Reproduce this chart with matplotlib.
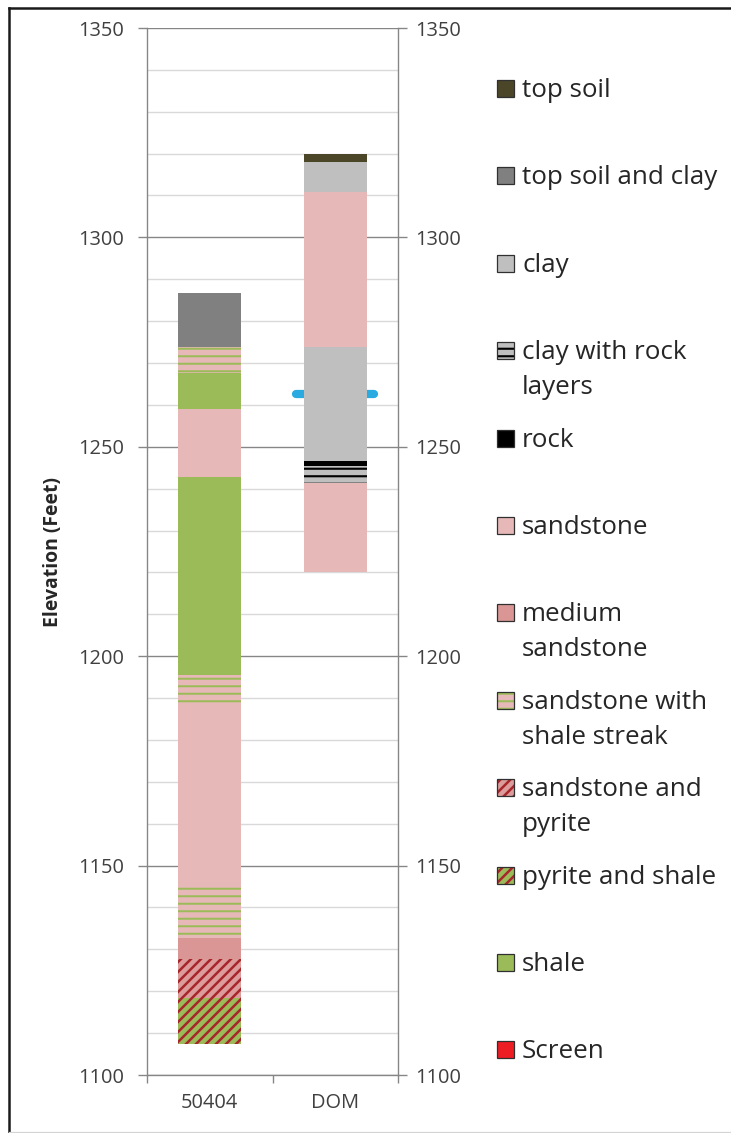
import numpy as np
import matplotlib
matplotlib.use("Agg")
import matplotlib.pyplot as plt
from matplotlib.patches import Rectangle
from matplotlib.lines import Line2D
from matplotlib.ticker import MultipleLocator

# ── data ─────────────────────────────────────────────────────────────────────

wells = ["50404", "DOM"]

# legend entries, top to bottom
layer_keys = ["top_soil", "top_soil_clay", "clay", "clay_rock", "rock", "sandstone",
              "med_sandstone", "sand_streak", "sand_pyrite", "pyrite_shale", "shale", "screen"]
layer_labels = ["top soil", "top soil and clay", "clay", "clay with rock\nlayers", "rock",
                "sandstone", "medium\nsandstone", "sandstone with\nshale streak",
                "sandstone and\npyrite", "pyrite and shale", "shale", "Screen"]

# well 50404, bottom to top
log_50404_base = 1107.5
log_50404_layers = ["pyrite_shale", "sand_pyrite", "med_sandstone", "sand_streak", "sandstone",
                    "sand_streak", "shale", "sandstone", "shale", "sand_streak", "top_soil_clay"]
log_50404_thick = [11.0, 9.2, 5.0, 13.1, 42.5, 7.2, 47.3, 16.2, 8.6, 6.2, 12.9]

# well DOM, bottom to top
log_dom_base = 1220.0
log_dom_layers = ["sandstone", "clay_rock", "rock", "clay", "sandstone", "clay", "top_soil"]
log_dom_thick = [21.4, 4.1, 1.0, 27.3, 37.0, 7.2, 2.0]

water_level_dom = 1262.6

# ── styles ───────────────────────────────────────────────────────────────────

PINK = "#e6b9b8"
GREEN = "#9bbb59"
DARKRED = "#a8262b"
# face, hatch, hatch colour, hatch linewidth
styles = {
    "top_soil":      ("#4b4628", None, None, 1.0),
    "top_soil_clay": ("#808080", None, None, 1.0),
    "clay":          ("#bfbfbf", None, None, 1.0),
    "clay_rock":     ("#bfbfbf", "--", "#000000", 1.7),
    "rock":          ("#000000", None, None, 1.0),
    "sandstone":     (PINK, None, None, 1.0),
    "med_sandstone": ("#d99694", None, None, 1.0),
    "sand_streak":   (PINK, "--", GREEN, 1.6),
    "sand_pyrite":   ("#dc9c9b", "///", DARKRED, 2.0),
    "pyrite_shale":  (GREEN, "///", DARKRED, 2.0),
    "shale":         (GREEN, None, None, 1.0),
    "screen":        ("#ee1c23", None, None, 1.0),
}

AXIS_GRAY = "#868686"
TEXT_GRAY = "#404040"
plt.rcParams["font.family"] = ["Open Sans", "DejaVu Sans"]

DPI = 90
W, H = 731, 1133
fig = plt.figure(figsize=(W / DPI + 1e-3, H / DPI + 1e-3), dpi=DPI)
fig.patch.set_facecolor("white")

ax = fig.add_axes([147 / W, 1 - 1075 / H, (398 - 147) / W, (1075 - 28) / H])


def add_layers(x, base, layers, thick):
    bottoms = base + np.concatenate([[0], np.cumsum(thick)[:-1]])
    for key, t, b in zip(layers, thick, bottoms):
        face, hatch, hcol, hlw = styles[key]
        plt.rcParams["hatch.linewidth"] = hlw
        bars = ax.bar(x, t, bottom=b, width=0.5, color=face, hatch=hatch,
                      edgecolor=hcol if hcol else face, linewidth=0, zorder=3)
        for p in bars:
            if hasattr(p, "set_hatch_linewidth"):
                p.set_hatch_linewidth(hlw)


add_layers(0, log_50404_base, log_50404_layers, log_50404_thick)
add_layers(1, log_dom_base, log_dom_layers, log_dom_thick)

# water level marker behind the DOM column
ax.plot([1 - 0.31, 1 + 0.31], [water_level_dom, water_level_dom], color="#29abe2",
        lw=6.6, solid_capstyle="round", zorder=2.5)

ax.set_xlim(-0.5, 1.5)
ax.set_ylim(1100, 1350)
ax.set_axisbelow(True)
ax.yaxis.set_major_locator(MultipleLocator(50))
ax.yaxis.set_minor_locator(MultipleLocator(10))
ax.grid(which="minor", axis="y", color="#d9d9d9", lw=1.1)
ax.grid(which="major", axis="y", color=AXIS_GRAY, lw=1.1)

for s in ["left", "right", "bottom"]:
    ax.spines[s].set_color(AXIS_GRAY)
    ax.spines[s].set_linewidth(1.1)
ax.spines["top"].set_visible(False)

ax.tick_params(axis="y", which="major", direction="out", length=7, width=1.1,
               color=AXIS_GRAY, labelsize=16, pad=11, labelcolor=TEXT_GRAY)
ax.tick_params(axis="y", which="minor", length=0)

ax.set_xticks([-0.5, 0.5, 1.5])
ax.set_xticklabels([])
ax.set_xticks([0, 1], minor=True)
ax.set_xticklabels(wells, minor=True)
ax.tick_params(axis="x", which="major", direction="out", length=6, width=1.1, color=AXIS_GRAY)
ax.tick_params(axis="x", which="minor", length=0, pad=14, labelsize=16, labelcolor=TEXT_GRAY)

ax.set_ylabel("Elevation (Feet)", fontsize=15.5, fontweight="bold", color="#262626")
ax.yaxis.set_label_coords(-0.335, 0.5)

ax2 = ax.twinx()
ax2.set_ylim(ax.get_ylim())
ax2.yaxis.set_major_locator(MultipleLocator(50))
ax2.tick_params(axis="y", which="major", direction="out", length=7, width=1.1,
                color=AXIS_GRAY, labelsize=16, pad=7, labelcolor=TEXT_GRAY)
for s in ax2.spines.values():
    s.set_visible(False)

# ── legend ───────────────────────────────────────────────────────────────────
lax = fig.add_axes([0, 0, 1, 1])
lax.set_xlim(0, W)
lax.set_ylim(H, 0)
lax.axis("off")
lax.patch.set_alpha(0)

sq = 17
for i, (key, label) in enumerate(zip(layer_keys, layer_labels)):
    yc = 88.5 + 87.4 * i
    face, hatch, hcol, hlw = styles[key]
    plt.rcParams["hatch.linewidth"] = hlw
    r = Rectangle((497, yc - sq / 2), sq, sq, facecolor=face, hatch=hatch,
                  edgecolor=hcol if hcol else face, linewidth=0)
    if hasattr(r, "set_hatch_linewidth"):
        r.set_hatch_linewidth(hlw)
    lax.add_patch(r)
    lax.add_patch(Rectangle((497, yc - sq / 2), sq, sq, facecolor="none",
                            edgecolor="#303030", linewidth=1.0))
    for j, line in enumerate(label.split("\n")):
        lax.text(522, yc + sq / 2 + 35 * j, line, fontsize=20.8, color="#262626",
                 ha="left", va="baseline")

# screenshot frame
fig.add_artist(Line2D([9 / W, 9 / W], [0, 1 - 8 / H], transform=fig.transFigure,
                      color="#1a1a1a", lw=2))
fig.add_artist(Line2D([9 / W, 1], [1 - 8 / H, 1 - 8 / H], transform=fig.transFigure,
                      color="#1a1a1a", lw=2))
fig.add_artist(Line2D([9 / W, 1], [1 - 1132 / H, 1 - 1132 / H], transform=fig.transFigure,
                      color="#d4d4d4", lw=1))

fig.savefig("out.png", dpi=DPI)
